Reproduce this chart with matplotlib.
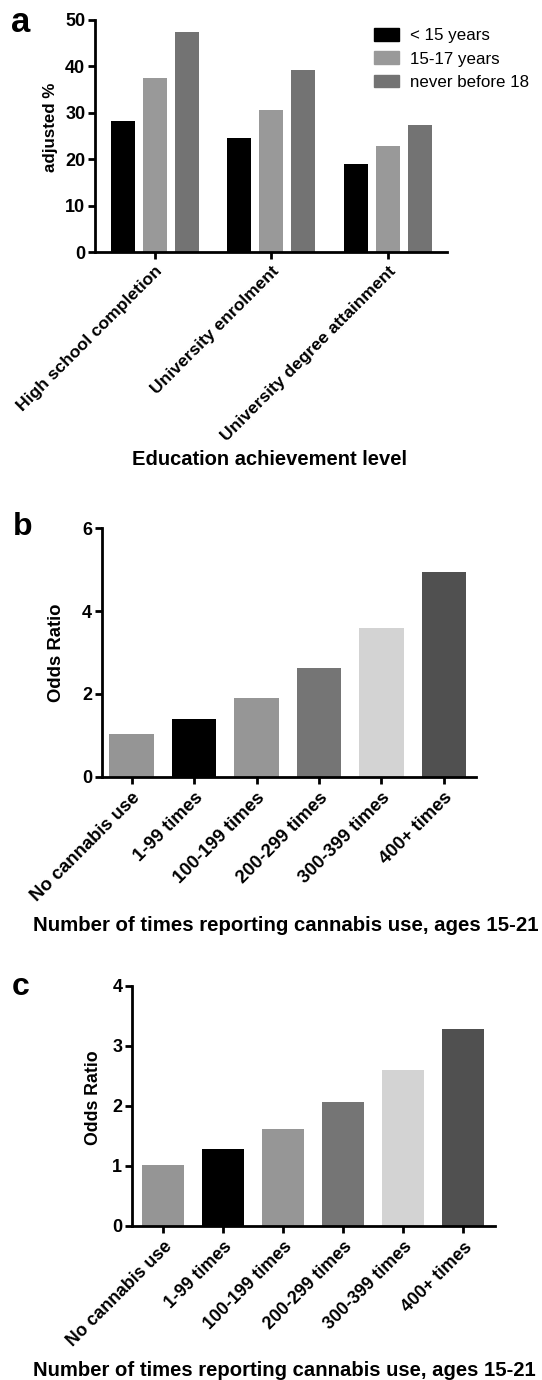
import numpy as np
import matplotlib
matplotlib.use("Agg")
from matplotlib import pyplot as plt
from matplotlib.patches import Patch

plt.rcParams['font.family'] = ['Liberation Sans', 'DejaVu Sans']

# panel a: education outcomes by age of first cannabis use
levels = ['High school completion', 'University enrolment', 'University degree attainment']
age_groups = ['< 15 years', '15-17 years', 'never before 18']
under15 = [28.2, 24.6, 18.9]
age15_17 = [37.5, 30.7, 22.8]
never18 = [47.4, 39.2, 27.3]
age_colors = ['#000000', '#999999', '#737373']

# panels b and c: odds ratios by frequency of cannabis use
use_groups = ['No cannabis use', '1-99 times', '100-199 times',
              '200-299 times', '300-399 times', '400+ times']
odds_b = [1.02, 1.39, 1.91, 2.62, 3.60, 4.94]
odds_c = [1.01, 1.28, 1.62, 2.06, 2.60, 3.29]
use_colors = ['#959595', '#000000', '#969696', '#757575', '#d3d3d3', '#505050']

W, H = 542, 1380
fig = plt.figure(figsize=(W / 100, H / 100), dpi=100)


def px_axes(x0, y0, x1, y1):
    # pixel box (top-left origin) -> axes
    return fig.add_axes([x0 / W, 1 - y1 / H, (x1 - x0) / W, (y1 - y0) / H])


def px_text(x, y, s, **kw):
    fig.text(x / W, 1 - y / H, s, **kw)


def style(ax, ysize):
    for side in ['top', 'right']:
        ax.spines[side].set_visible(False)
    for side in ['left', 'bottom']:
        ax.spines[side].set_linewidth(2.0)
    ax.tick_params(width=2.0, length=5, direction='out')
    ax.tick_params(axis='y', labelsize=ysize, pad=2)
    for t in ax.get_yticklabels():
        t.set_fontweight('bold')


# ---- a ----
ax = px_axes(95, 20, 447.3, 252.3)
x = np.arange(len(levels))
bw, off = 0.206, 0.275
for i, (vals, c, lab) in enumerate(zip([under15, age15_17, never18], age_colors, age_groups)):
    ax.bar(x + (i - 1) * off, vals, bw, color=c, label=lab)
ax.set_xlim(-0.512, 2.51)
ax.set_ylim(0, 50)
ax.set_yticks([0, 10, 20, 30, 40, 50])
style(ax, 13)
ax.set_xticks(x)
ax.set_xticklabels(levels, rotation=45, ha='right', rotation_mode='anchor',
                   fontsize=12.6, fontweight='bold')
ax.tick_params(axis='x', pad=3)
handles = [Patch(color=c, label=l) for c, l in zip(age_colors, age_groups)]
fig.legend(handles=handles, loc='upper left', bbox_to_anchor=(374 / W, 1 - 28 / H),
           frameon=False, fontsize=12.2, handlelength=1.48, handleheight=0.79,
           handletextpad=0.63, labelspacing=0.47, borderpad=0, borderaxespad=0)
px_text(51, 127.5, 'adjusted %', rotation=90, ha='center', va='center',
        fontsize=12.2, fontweight='bold')
px_text(270, 465, 'Education achievement level', ha='center', va='baseline',
        fontsize=14.5, fontweight='bold')
px_text(21, 31.7, 'a', ha='center', va='baseline', fontsize=25, fontweight='bold')

# ---- b ----
ax = px_axes(101.7, 528.3, 475.7, 776.7)
xb = np.arange(len(use_groups))
ax.bar(xb, odds_b, 0.716, color=use_colors)
ax.set_xlim(-0.48, 5.51)
ax.set_ylim(0, 6)
ax.set_yticks([0, 2, 4, 6])
style(ax, 13)
ax.set_xticks(xb)
ax.set_xticklabels(use_groups, rotation=45, ha='right', rotation_mode='anchor',
                   fontsize=13.3, fontweight='bold')
ax.tick_params(axis='x', pad=4)
px_text(56.7, 653, 'Odds Ratio', rotation=90, ha='center', va='center',
        fontsize=13.3, fontweight='bold')
px_text(33, 931, 'Number of times reporting cannabis use, ages 15-21', ha='left',
        va='baseline', fontsize=14.7, fontweight='bold')
px_text(22.5, 535, 'b', ha='center', va='baseline', fontsize=23, fontweight='bold')

# ---- c ----
ax = px_axes(132, 986, 495, 1226)
ax.bar(xb, odds_c, 0.706, color=use_colors)
ax.set_xlim(-0.52, 5.53)
ax.set_ylim(0, 4)
ax.set_yticks([0, 1, 2, 3, 4])
style(ax, 13)
ax.set_xticks(xb)
ax.set_xticklabels(use_groups, rotation=45, ha='right', rotation_mode='anchor',
                   fontsize=12.8, fontweight='bold')
ax.tick_params(axis='x', pad=4)
px_text(94, 1098, 'Odds Ratio', rotation=90, ha='center', va='center',
        fontsize=12.8, fontweight='bold')
px_text(33, 1376, 'Number of times reporting cannabis use, ages 15-21', ha='left',
        va='baseline', fontsize=14.6, fontweight='bold')
px_text(21, 995, 'c', ha='center', va='baseline', fontsize=23, fontweight='bold')

plt.savefig('out.png', dpi=100)
